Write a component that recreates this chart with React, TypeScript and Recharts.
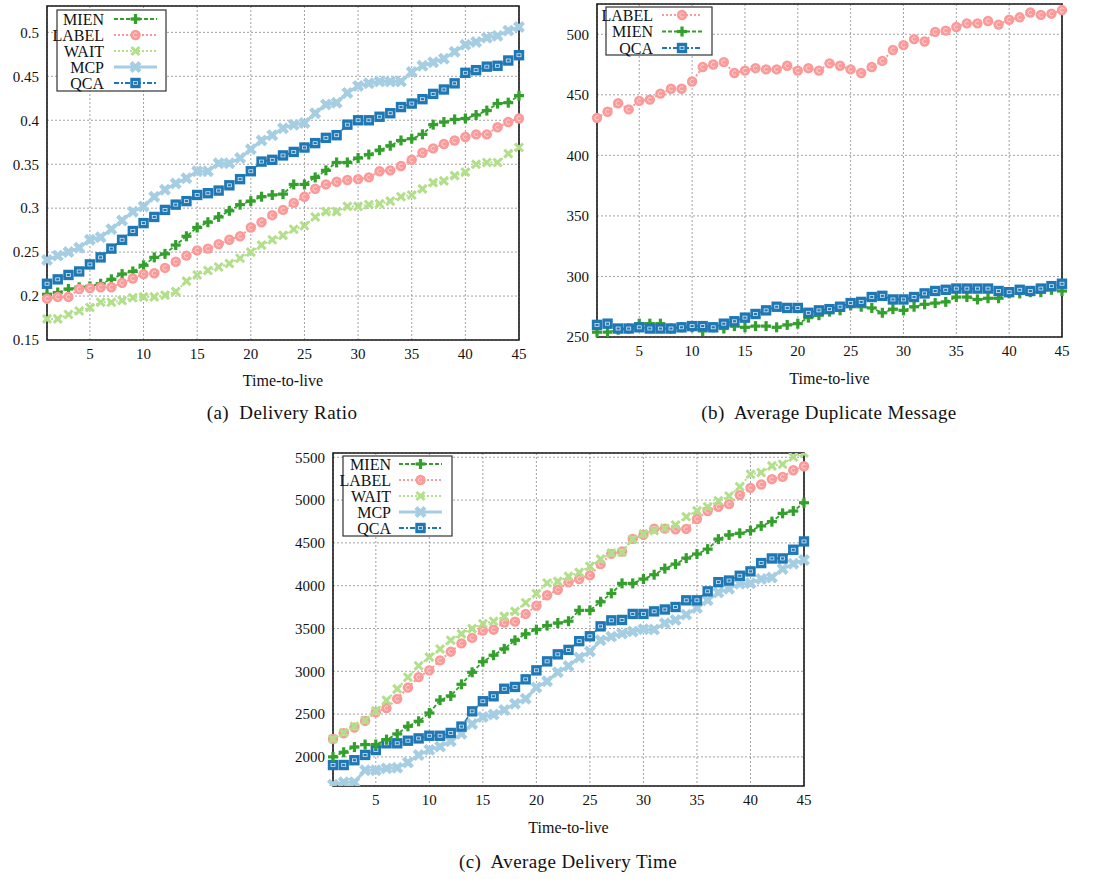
import React from 'react';
import { LineChart, Line, XAxis, YAxis, CartesianGrid, ReferenceArea } from 'recharts';

const ttl = [1,2,3,4,5,6,7,8,9,10,11,12,13,14,15,16,17,18,19,20,21,22,23,24,25,26,27,28,29,30,31,32,33,34,35,36,37,38,39,40,41,42,43,44,45];
const xTicks = [5,10,15,20,25,30,35,40,45];

const aMIEN = [0.202,0.204,0.208,0.210,0.211,0.214,0.219,0.225,0.228,0.235,0.244,0.248,0.258,0.268,0.278,0.284,0.290,0.297,0.304,0.308,0.313,0.315,0.316,0.327,0.327,0.335,0.343,0.352,0.352,0.357,0.361,0.366,0.371,0.377,0.379,0.384,0.395,0.398,0.401,0.402,0.406,0.411,0.419,0.420,0.428];
const aLABEL = [0.197,0.199,0.199,0.208,0.209,0.210,0.210,0.215,0.220,0.225,0.226,0.232,0.239,0.246,0.252,0.254,0.259,0.264,0.268,0.278,0.284,0.292,0.298,0.306,0.313,0.322,0.327,0.330,0.332,0.333,0.335,0.342,0.343,0.348,0.355,0.363,0.368,0.373,0.377,0.381,0.384,0.384,0.392,0.398,0.402];
const aWAIT = [0.174,0.174,0.179,0.183,0.187,0.193,0.193,0.195,0.198,0.199,0.199,0.201,0.205,0.217,0.224,0.229,0.233,0.237,0.243,0.250,0.258,0.264,0.269,0.276,0.280,0.290,0.296,0.296,0.302,0.302,0.304,0.305,0.308,0.313,0.315,0.322,0.329,0.331,0.337,0.341,0.350,0.352,0.352,0.362,0.369];
const aMCP = [0.241,0.246,0.250,0.255,0.264,0.267,0.276,0.286,0.296,0.302,0.313,0.321,0.328,0.334,0.342,0.342,0.351,0.351,0.357,0.367,0.377,0.383,0.391,0.395,0.397,0.408,0.418,0.420,0.431,0.439,0.442,0.444,0.444,0.444,0.455,0.462,0.466,0.470,0.478,0.486,0.489,0.494,0.496,0.502,0.506];
const aQCA = [0.214,0.219,0.224,0.228,0.236,0.244,0.254,0.264,0.274,0.283,0.290,0.298,0.304,0.308,0.315,0.317,0.320,0.326,0.333,0.342,0.353,0.355,0.360,0.364,0.369,0.374,0.380,0.383,0.395,0.400,0.400,0.404,0.408,0.415,0.419,0.424,0.430,0.435,0.442,0.454,0.457,0.461,0.462,0.468,0.474];
const aTicks = [0.15,0.2,0.25,0.3,0.35,0.4,0.45,0.5];

const bLABEL = [431,436,443,438,445,446,451,455,455,461,473,475,477,468,470,472,471,471,474,470,472,470,476,474,471,468,473,478,487,491,496,494,502,503,506,509,509,511,508,512,514,518,516,517,520];
const bMIEN = [254,254,256,257,261,261,261,257,258,258,255,258,257,259,258,259,259,258,260,261,266,268,271,272,276,275,274,270,273,272,275,277,278,279,283,283,281,282,282,286,286,287,287,289,288];
const bQCA = [260,261,257,257,258,257,257,257,258,259,259,258,261,263,266,269,272,275,274,274,270,272,273,275,278,279,283,284,281,281,283,286,288,289,290,290,290,290,288,287,289,288,290,292,294];
const bTicks = [250,300,350,400,450,500];

const cMIEN = [2000,2054,2115,2144,2144,2202,2268,2357,2416,2513,2663,2712,2848,2988,3112,3188,3262,3362,3436,3486,3534,3564,3585,3712,3712,3812,3910,4027,4027,4078,4128,4200,4252,4322,4370,4427,4544,4593,4612,4643,4698,4748,4845,4872,4969];
const cLABEL = [2210,2276,2342,2420,2522,2571,2678,2810,2932,3011,3127,3229,3326,3390,3476,3486,3570,3580,3670,3766,3888,3953,4039,4078,4120,4252,4372,4399,4547,4593,4667,4667,4659,4663,4779,4872,4922,4953,5058,5143,5182,5244,5271,5349,5395];
const cWAIT = [2210,2284,2357,2428,2538,2660,2795,2931,3065,3165,3260,3362,3437,3498,3556,3585,3642,3700,3800,3907,4031,4050,4109,4155,4225,4310,4380,4391,4543,4605,4643,4671,4709,4806,4876,4922,4992,5047,5155,5302,5322,5399,5419,5504,5550];
const cMCP = [1675,1705,1705,1845,1845,1866,1872,1934,2022,2082,2120,2183,2270,2383,2467,2494,2548,2620,2679,2810,2883,2988,3062,3160,3230,3362,3405,3440,3465,3492,3487,3562,3600,3662,3740,3830,3920,3965,4023,4028,4078,4095,4195,4255,4300];
const cQCA = [1905,1905,1961,2023,2080,2159,2159,2189,2216,2247,2247,2280,2354,2532,2650,2708,2796,2817,2906,3011,3116,3198,3250,3352,3409,3525,3595,3600,3670,3670,3700,3722,3751,3829,3829,3934,4041,4060,4116,4167,4264,4318,4318,4420,4517];
const cTicks = [2000,2500,3000,3500,4000,4500,5000,5500];

const C_MIEN = '#33a02c';
const C_LABEL = '#fb9a99';
const C_WAIT = '#b2df8a';
const C_MCP = '#a6cee3';
const C_QCA = '#1f78b4';

const FONT = '"Liberation Serif", "Times New Roman", serif';

type MP = { cx: number; cy: number };
const PlusMark = ({ cx, cy }: MP) => (
  <g>
    <rect x={cx - 5} y={cy - 1.6} width={10} height={3.2} fill={C_MIEN} />
    <rect x={cx - 1.6} y={cy - 5} width={3.2} height={10} fill={C_MIEN} />
  </g>
);
const CircleMark = ({ cx, cy }: MP) => (
  <g>
    <circle cx={cx} cy={cy} r={5.2} fill={C_LABEL} />
    <path d={`M${cx + 1.6},${cy - 1.6} A2.2,2.2 0 1 0 ${cx + 1.6},${cy + 1.6}`} stroke="#fde3e3" strokeWidth={0.8} fill="none" />
  </g>
);
const XMark = ({ cx, cy }: MP) => (
  <path d={`M${cx - 4},${cy - 4}L${cx + 4},${cy + 4}M${cx - 4},${cy + 4}L${cx + 4},${cy - 4}`} stroke={C_WAIT} strokeWidth={3} />
);
const StarMark = ({ cx, cy }: MP) => (
  <g>
    <path d={`M${cx - 4.5},${cy - 4.5}L${cx + 4.5},${cy + 4.5}M${cx - 4.5},${cy + 4.5}L${cx + 4.5},${cy - 4.5}`} stroke={C_MCP} strokeWidth={4.2} />
    <rect x={cx - 3} y={cy - 3} width={6} height={6} fill={C_MCP} />
  </g>
);
const SquareMark = ({ cx, cy }: MP) => (
  <g>
    <rect x={cx - 5.2} y={cy - 5.2} width={10.4} height={10.4} fill={C_QCA} />
    <rect x={cx - 2} y={cy - 1.5} width={4} height={3} fill="none" stroke="#d5e7f5" strokeWidth={0.8} />
  </g>
);

const mk = (M: any) => (p: any) => {
  if (p.cx == null || p.cy == null) return <g key={p.index} />;
  return <M key={`m${p.index}`} cx={p.cx} cy={p.cy} />;
};

type SeriesDef = { name: string; vals: number[]; color: string; width: number; dash?: string; M: any };

const S_MIEN = (v: number[]): SeriesDef => ({ name: 'MIEN', vals: v, color: C_MIEN, width: 1.8, dash: '4 2', M: PlusMark });
const S_LABEL = (v: number[]): SeriesDef => ({ name: 'LABEL', vals: v, color: C_LABEL, width: 2, dash: '2 2', M: CircleMark });
const S_WAIT = (v: number[]): SeriesDef => ({ name: 'WAIT', vals: v, color: C_WAIT, width: 2, dash: '2 2', M: XMark });
const S_MCP = (v: number[]): SeriesDef => ({ name: 'MCP', vals: v, color: C_MCP, width: 3, M: StarMark });
const S_QCA = (v: number[]): SeriesDef => ({ name: 'QCA', vals: v, color: C_QCA, width: 1.8, dash: '5 2 2 2', M: SquareMark });

const tickStyle = { fontFamily: FONT, fontSize: 15, fill: '#111' };

function Panel(props: {
  left: number; top: number; width: number; height: number;
  margin: any; yWidth: number; xHeight: number;
  domain: [number, number]; yTicks: number[]; series: SeriesDef[];
}) {
  const { series } = props;
  const data = ttl.map((t, i) => {
    const row: any = { t };
    series.forEach((s) => { row[s.name] = s.vals[i]; });
    return row;
  });
  return (
    <div style={{ position: 'absolute', left: props.left, top: props.top }}>
      <LineChart width={props.width} height={props.height} data={data} margin={props.margin}>
        <CartesianGrid stroke="#8a8a8a" strokeDasharray="2 2" strokeWidth={0.8} />
        <XAxis
          dataKey="t" type="number" domain={[1, 45]} ticks={xTicks} interval={0}
          height={props.xHeight} axisLine={false} tickLine={false} tick={tickStyle}
          label={{ value: 'Time-to-live', position: 'insideBottom', offset: 0, style: { fontFamily: FONT, fontSize: 16, fill: '#111' } }}
        />
        <YAxis
          type="number" domain={props.domain} ticks={props.yTicks} interval={0}
          width={props.yWidth} axisLine={false} tickLine={false} tick={tickStyle}
          allowDataOverflow
        />
        {series.map((s) => (
          <Line
            key={s.name} dataKey={s.name} stroke={s.color} strokeWidth={s.width}
            strokeDasharray={s.dash} isAnimationActive={false} type="linear"
            dot={mk(s.M)} activeDot={false}
          />
        ))}
        <ReferenceArea x1={1} x2={45} y1={props.domain[0]} y2={props.domain[1]} fill="none" stroke="#1a1a1a" strokeWidth={1.6} ifOverflow="visible" />
      </LineChart>
    </div>
  );
}

function LegendBox(props: { x: number; y: number; w: number; h: number; textRight: number; lineX1: number; lineX2: number; rowY0: number; rowDy: number; series: SeriesDef[] }) {
  const { series } = props;
  return (
    <g>
      <rect x={props.x} y={props.y} width={props.w} height={props.h} fill="#fff" stroke="#333" strokeWidth={1.2} />
      {series.map((s, i) => {
        const yy = props.rowY0 + i * props.rowDy;
        const M = s.M;
        const mid = (props.lineX1 + props.lineX2) / 2;
        return (
          <g key={s.name}>
            <text x={props.textRight} y={yy} textAnchor="end" dominantBaseline="central" fontFamily={FONT} fontSize={16} fill="#111">{s.name}</text>
            <line x1={props.lineX1} x2={props.lineX2} y1={yy} y2={yy} stroke={s.color} strokeWidth={s.width} strokeDasharray={s.dash} />
            <M cx={mid} cy={yy} />
          </g>
        );
      })}
    </g>
  );
}

export default function App() {
  const aSeries = [S_MIEN(aMIEN), S_LABEL(aLABEL), S_WAIT(aWAIT), S_MCP(aMCP), S_QCA(aQCA)];
  const bSeries = [S_LABEL(bLABEL), S_MIEN(bMIEN), S_QCA(bQCA)];
  const cSeries = [S_MIEN(cMIEN), S_LABEL(cLABEL), S_WAIT(cWAIT), S_MCP(cMCP), S_QCA(cQCA)];
  const aOrder = [S_MCP(aMCP), S_QCA(aQCA), S_MIEN(aMIEN), S_LABEL(aLABEL), S_WAIT(aWAIT)];
  const cOrder = [S_MCP(cMCP), S_QCA(cQCA), S_MIEN(cMIEN), S_LABEL(cLABEL), S_WAIT(cWAIT)];
  const cap = { position: 'absolute' as const, fontFamily: FONT, fontSize: 19, color: '#111', whiteSpace: 'nowrap' as const, transform: 'translate(-50%, -50%)', letterSpacing: '0.4px' };
  return (
    <div style={{ position: 'absolute', left: 0, top: 0, width: 1094, height: 879, background: '#fff', overflow: 'hidden' }}>
      <Panel left={0} top={0} width={530} height={400} margin={{ top: 6, right: 11, bottom: 14, left: 0 }} yWidth={47} xHeight={46} domain={[0.15, 0.53]} yTicks={aTicks} series={aOrder} />
      <Panel left={540} top={0} width={540} height={400} margin={{ top: 4, right: 18, bottom: 16, left: 0 }} yWidth={57} xHeight={47} domain={[250, 525]} yTicks={bTicks} series={bSeries} />
      <Panel left={280} top={440} width={540} height={400} margin={{ top: 13, right: 16, bottom: 7, left: 0 }} yWidth={53} xHeight={47} domain={[1660, 5550]} yTicks={cTicks} series={cOrder} />
      <svg width={1094} height={879} style={{ position: 'absolute', left: 0, top: 0, pointerEvents: 'none' }}>
        <LegendBox x={57} y={10} w={109} h={81} textRight={104} lineX1={114} lineX2={157} rowY0={19} rowDy={16} series={aSeries} />
        <LegendBox x={606} y={7} w={106} h={48} textRight={653} lineX1={662} lineX2={702} rowY0={15} rowDy={16.5} series={bSeries} />
        <LegendBox x={343} y={456} w={109} h={80} textRight={391} lineX1={399} lineX2={442} rowY0={464} rowDy={16} series={cSeries} />
      </svg>
      <div style={{ ...cap, left: 282, top: 413 }}>(a)&nbsp; Delivery Ratio</div>
      <div style={{ ...cap, left: 829, top: 413 }}>(b)&nbsp; Average Duplicate Message</div>
      <div style={{ ...cap, left: 568, top: 862 }}>(c)&nbsp; Average Delivery Time</div>
    </div>
  );
}
